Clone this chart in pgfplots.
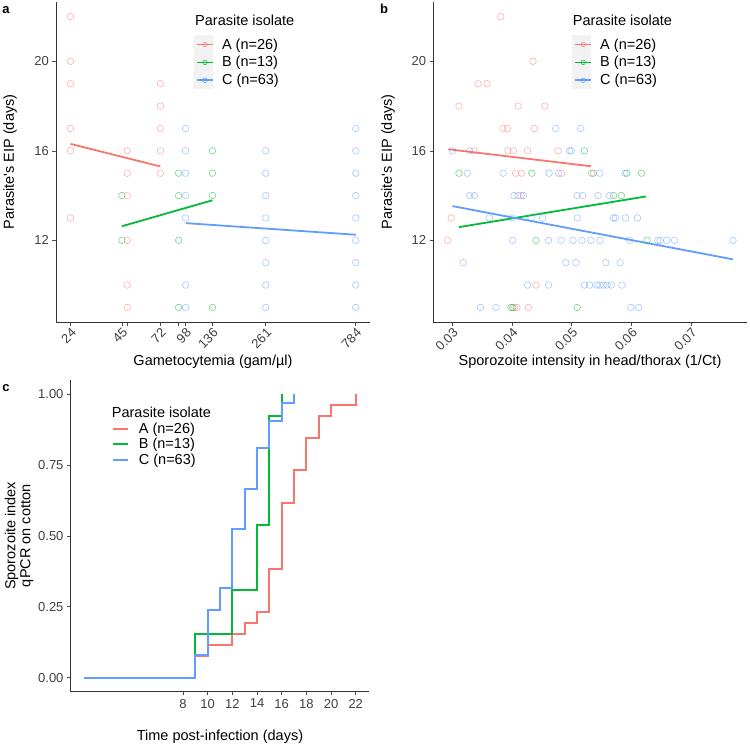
\documentclass[border=0pt]{standalone}
\usepackage{fontspec}
\setmainfont{Liberation Sans}
\usepackage{pgfplots}
\pgfplotsset{compat=1.18}
\definecolor{cA}{HTML}{F8766D}
\definecolor{cB}{HTML}{00BA38}
\definecolor{cC}{HTML}{619CFF}
\pgfplotsset{
  ggbase/.style={
    scale only axis,
    anchor=south west,
    axis lines=left,
    axis line style={-, line width=0.7pt, black!80},
    tick align=outside,
    major tick length=3.7pt,
    tick style={line width=0.6pt, black!70},
    ticklabel style={font=\fontsize{13}{13}\selectfont, text=black!75},
    label style={font=\fontsize{14.5}{15}\selectfont, inner sep=0pt},
    scaled ticks=false,
    clip=false,
  },
  pts/.style={only marks, mark=o, mark size=3.3pt, mark options={line width=0.55pt, draw opacity=0.6}, forget plot},
  fitline/.style={line width=1.8pt},
  ablegend/.style={
    legend style={draw=none, fill=none, inner sep=0pt, row sep=0pt, column sep=8.3pt,
      anchor=north west, nodes={inner sep=0pt, minimum height=17.9pt, font=\fontsize{14.5}{15}\selectfont}},
    legend cell align=left,
    legend image code/.code={\draw[##1] (0pt,0pt) -- (15.7pt,0pt); \draw[##1, line width=0.5pt] (7.85pt,0pt) circle (2.3pt);},
  },
}
\begin{document}
\begin{tikzpicture}
\useasboundingbox (0pt,0pt) rectangle (750pt,-748pt);
% legend key backgrounds
\fill[black!5] (194pt,-35pt) rectangle (212.7pt,-89pt);
\fill[black!5] (572.3pt,-35pt) rectangle (591pt,-89pt);
% ---------------- panel a
\begin{axis}[ggbase, ablegend, at={(56pt,-322pt)}, width=314pt, height=320pt,
  xmode=log, xmin=20.1, xmax=933, ymin=8.35, ymax=22.65,
  xtick={24,45,48,72,90,98,136,261,784}, xticklabels={24,45,,72,,98,136,261,784},
  minor xtick={},
  ytick={12,16,20}, yticklabels={12,16,20},
  xticklabel style={rotate=45, anchor=north east, inner sep=1pt},
  xlabel={Gametocytemia (gam/µl)}, ylabel={Parasite\textquotesingle s EIP (days)},
  xlabel style={at={(axis description cs:0.5,0)}, anchor=center, yshift=-40pt},
  ylabel style={at={(axis description cs:-0.1465,0.5)}, anchor=center},
  legend style={at={(0.4459,0.8958)}},
]
\addplot[pts, cA] coordinates {(24,22)(24,20)(24,19)(24,17)(24,16)(24,13)(48,16)(48,15)(48,14)(48,12)(48,10)(48,9)(72,19)(72,18)(72,17)(72,16)(72,15)};
\addplot[pts, cB] coordinates {(45,14)(45,12)(90,15)(90,14)(90,12)(90,9)(136,16)(136,15)(136,14)(136,9)};
\addplot[pts, cC] coordinates {(98,17)(98,16)(98,15)(98,14)(98,13)(98,10)(98,9)
 (261,16)(261,15)(261,14)(261,13)(261,12)(261,11)(261,10)(261,9)
 (784,17)(784,16)(784,15)(784,14)(784,13)(784,12)(784,11)(784,10)(784,9)};
\addplot[fitline, cA] coordinates {(24,16.31)(72,15.30)};
\addlegendentry{A (n=26)}
\addplot[fitline, cB] coordinates {(45,12.63)(136,13.79)};
\addlegendentry{B (n=13)}
\addplot[fitline, cC] coordinates {(98,12.77)(784,12.25)};
\addlegendentry{C (n=63)}
\end{axis}
% ---------------- panel b
\begin{axis}[ggbase, ablegend, at={(433.3pt,-322pt)}, width=313.4pt, height=320pt,
  xmin=0.0268, xmax=0.0793, ymin=8.35, ymax=22.65,
  xtick={0.03,0.04,0.05,0.06,0.07}, xticklabels={0.03,0.04,0.05,0.06,0.07},
  ytick={12,16,20}, yticklabels={12,16,20},
  xticklabel style={rotate=45, anchor=north east, inner sep=1pt},
  xlabel={Sporozoite intensity in head/thorax (1/Ct)}, ylabel={Parasite\textquotesingle s EIP (days)},
  xlabel style={at={(axis description cs:0.5,0)}, anchor=center, yshift=-40pt},
  ylabel style={at={(axis description cs:-0.1445,0.5)}, anchor=center},
  legend style={at={(0.4497,0.8958)}},
]
\addplot[pts, cA] coordinates {(0.0381,22)(0.0435,20)(0.0343,19)(0.0358,19)(0.0311,18)(0.0410,18)(0.0455,18)
 (0.0385,17)(0.0392,17)(0.0437,17)(0.0336,16)(0.0393,16)(0.0402,16)(0.0426,16)(0.0477,16)
 (0.0406,15)(0.0416,15)(0.0483,15)(0.0533,15)(0.0415,14)(0.0298,13)(0.0292,12)(0.0440,10)
 (0.0404,9)(0.0408,9)(0.0427,9)};
\addplot[pts, cB] coordinates {(0.0311,15)(0.0433,15)(0.0521,16)(0.0536,15)(0.0592,15)(0.0617,15)(0.0570,14)(0.0583,14)
 (0.0440,12)(0.0626,12)(0.0398,9)(0.0401,9)(0.0509,9)};
\addplot[pts, cC] coordinates {(0.0473,17)(0.0515,17)
 (0.0300,16)(0.0329,16)(0.0496,16)(0.0499,16)
 (0.0325,15)(0.0385,15)(0.0462,15)(0.0478,15)(0.0547,15)(0.0589,15)
 (0.0329,14)(0.0337,14)(0.0403,14)(0.0410,14)(0.0419,14)(0.0509,14)(0.0518,14)(0.0544,14)(0.0563,14)
 (0.0362,13)(0.0400,13)(0.0432,13)(0.0451,13)(0.0509,13)(0.0570,13)(0.0573,13)(0.0590,13)(0.0610,13)
 (0.0401,12)(0.0461,12)(0.0482,12)(0.0502,12)(0.0517,12)(0.0532,12)(0.0547,12)(0.0597,12)(0.0644,12)(0.0648,12)(0.0659,12)(0.0672,12)(0.0770,12)
 (0.0318,11)(0.0490,11)(0.0507,11)(0.0557,11)(0.0581,11)
 (0.0426,10)(0.0461,10)(0.0521,10)(0.0530,10)(0.0542,10)(0.0547,10)(0.0553,10)(0.0559,10)(0.0566,10)(0.0584,10)
 (0.0347,9)(0.0373,9)(0.0599,9)(0.0612,9)};
\addplot[fitline, cA] coordinates {(0.0293,16.07)(0.0532,15.31)};
\addlegendentry{A (n=26)}
\addplot[fitline, cB] coordinates {(0.0311,12.59)(0.0624,13.96)};
\addlegendentry{B (n=13)}
\addplot[fitline, cC] coordinates {(0.0300,13.53)(0.0770,11.15)};
\addlegendentry{C (n=63)}
\end{axis}
% ---------------- panel c
\begin{axis}[ggbase, at={(70.7pt,-691.7pt)}, width=298.6pt, height=311.7pt,
  xmin=-1.1, xmax=23.1, ymin=-0.05, ymax=1.05,
  xtick={8,10,12,14,16,18,20,22}, xticklabels={8,10,12,14,16,18,20,22},
  ytick={0,0.25,0.5,0.75,1}, yticklabels={0.00,0.25,0.50,0.75,1.00},
  xlabel={Time post-infection (days)}, ylabel={Sporozoite index\\qPCR on cotton},
  xlabel style={at={(axis description cs:0.5,0)}, anchor=center, yshift=-45.3pt},
  ylabel style={at={(axis description cs:-0.173,0.5)}, anchor=center, align=center},
  legend style={draw=none, fill=none, inner sep=0pt, row sep=0pt, column sep=10pt,
    at={(0.1373,0.8699)}, anchor=north west,
    nodes={inner sep=0pt, minimum height=15.5pt, font=\fontsize{14.5}{15}\selectfont}},
  legend cell align=left,
  legend image code/.code={\draw[#1] (0pt,0pt) -- (15pt,0pt);},
]
\addplot[const plot, cA, line width=2pt] coordinates {(0,0)(9,0.0769)(10,0.1154)(12,0.1538)(13,0.1923)(14,0.2308)(15,0.3846)(16,0.6154)(17,0.7308)(18,0.8462)(19,0.9231)(20,0.9615)(22,1)};
\addlegendentry{A (n=26)}
\addplot[const plot, cB, line width=2pt] coordinates {(0,0)(9,0.1538)(12,0.3077)(14,0.5385)(15,0.9231)(16,1)};
\addlegendentry{B (n=13)}
\addplot[const plot, cC, line width=2pt] coordinates {(0,0)(9,0.0794)(10,0.2381)(11,0.3175)(12,0.5238)(13,0.6667)(14,0.8095)(15,0.9048)(16,0.9683)(17,1)};
\addlegendentry{C (n=63)}
\end{axis}
% legend titles and panel letters
\node[anchor=west, inner sep=0pt, font=\fontsize{14.5}{15}\selectfont] at (195pt,-20pt) {Parasite isolate};
\node[anchor=west, inner sep=0pt, font=\fontsize{14.5}{15}\selectfont] at (572.7pt,-20pt) {Parasite isolate};
\node[anchor=west, inner sep=0pt, font=\fontsize{14.5}{15}\selectfont] at (111.7pt,-412.7pt) {Parasite isolate};
\node[font=\bfseries\fontsize{13}{13}\selectfont] at (6pt,-10pt) {a};
\node[font=\bfseries\fontsize{13}{13}\selectfont] at (384pt,-9pt) {b};
\node[font=\bfseries\fontsize{13}{13}\selectfont] at (6pt,-388pt) {c};
\end{tikzpicture}
\end{document}
